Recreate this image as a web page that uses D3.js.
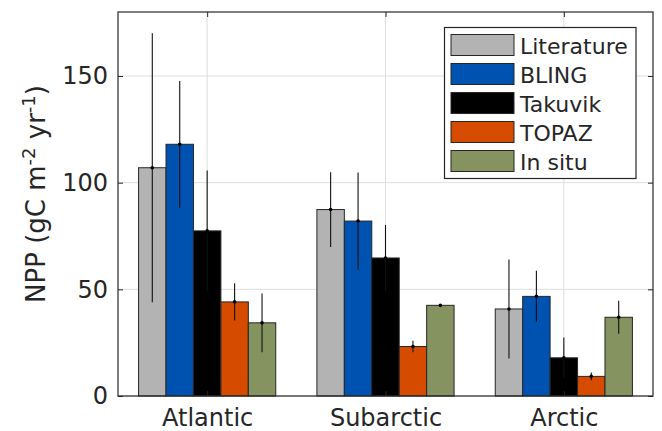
<!DOCTYPE html>
<html>
<head>
<meta charset="utf-8">
<script src="https://cdn.jsdelivr.net/npm/d3@7"></script>
<style>
  body { margin: 0; background: #fff; }
  text { font-family: "DejaVu Sans", sans-serif; fill: #262626; }
</style>
</head>
<body>
<div id="chart"></div>
<script>
// NPP per region, bars with error bars
var categories = ["Atlantic", "Subarctic", "Arctic"];
var series = ["Literature", "BLING", "Takuvik", "TOPAZ", "In situ"];
var colors = ["#b3b3b3", "#0052b0", "#000000", "#d54b00", "#84935f"];
var values = [
  [107, 87.4, 40.8],   // Literature
  [118, 82.0, 46.7],   // BLING
  [77.4, 64.7, 17.9],  // Takuvik
  [44.1, 23.2, 9.2],   // TOPAZ
  [34.3, 42.5, 36.9]   // In situ
];
var errors = [
  [63, 17.5, 23.2],
  [29.7, 22.8, 12],
  [28.3, 15.5, 9.5],
  [8.7, 2.7, 1.8],
  [13.8, 0.5, 7.7]
];
var yTicks = [0, 50, 100, 150];
var yMax = 180;

var W = 662, H = 431;
var margin = {top: 12, right: 9, bottom: 35, left: 118};
var width = W - margin.left - margin.right;
var height = H - margin.top - margin.bottom;
var axisColor = "#262626";

var svg = d3.select("#chart").append("svg").attr("width", W).attr("height", H);
svg.append("rect").attr("width", W).attr("height", H).attr("fill", "#fff");
var g = svg.append("g").attr("transform", "translate(" + margin.left + "," + margin.top + ")");

var x = d3.scaleBand().domain(categories).range([0, width]).padding(0);
var groupW = x.bandwidth() * 5 / 6.5;
var xs = d3.scaleBand().domain(series).range([-groupW / 2, groupW / 2]).padding(0);
var y = d3.scaleLinear().domain([0, yMax]).range([height, 0]);

// grid
var grid = g.append("g");
grid.selectAll("line.h").data(yTicks).enter().append("line")
  .attr("x1", 0).attr("x2", width)
  .attr("y1", function(d) { return y(d); }).attr("y2", function(d) { return y(d); })
  .attr("stroke", "#dedede").attr("stroke-width", 1);
grid.selectAll("line.v").data(categories).enter().append("line")
  .attr("x1", function(d) { return x(d) + x.bandwidth() / 2; })
  .attr("x2", function(d) { return x(d) + x.bandwidth() / 2; })
  .attr("y1", 0).attr("y2", height)
  .attr("stroke", "#dedede").attr("stroke-width", 1);

// bars
var bars = g.append("g");
series.forEach(function(s, i) {
  bars.selectAll("rect.s" + i).data(categories).enter().append("rect")
    .attr("x", function(c) { return x(c) + x.bandwidth() / 2 + xs(s); })
    .attr("y", function(c, j) { return y(values[i][j]); })
    .attr("width", xs.bandwidth())
    .attr("height", function(c, j) { return y(0) - y(values[i][j]); })
    .attr("fill", colors[i])
    .attr("stroke", "#262626").attr("stroke-width", 1);
});

// error bars
var eb = g.append("g");
series.forEach(function(s, i) {
  categories.forEach(function(c, j) {
    var cx = x(c) + x.bandwidth() / 2 + xs(s) + xs.bandwidth() / 2;
    eb.append("line")
      .attr("x1", cx).attr("x2", cx)
      .attr("y1", y(values[i][j] - errors[i][j]))
      .attr("y2", y(values[i][j] + errors[i][j]))
      .attr("stroke", "#111").attr("stroke-width", 1.1);
    eb.append("circle").attr("cx", cx).attr("cy", y(values[i][j]))
      .attr("r", 1.8).attr("fill", "#000");
  });
});

// axes (MATLAB style: ticks inside, box on)
var xCenter = d3.scalePoint().domain(categories).range([x.bandwidth() / 2, width - x.bandwidth() / 2]);
function styleAxis(sel) {
  sel.select(".domain").remove();
  sel.selectAll("line").attr("stroke", axisColor);
  sel.selectAll("text").attr("fill", axisColor).style("font-size", "24px")
    .style("font-family", "DejaVu Sans");
}
var ax = g.append("g").attr("transform", "translate(0," + height + ")")
  .call(d3.axisBottom(xCenter).tickSize(-5)).call(styleAxis);
ax.selectAll("text").attr("y", 30).attr("dy", null);
g.append("g").call(d3.axisTop(xCenter).tickSize(-5).tickFormat("")).call(styleAxis);
g.append("g").call(d3.axisLeft(y).tickValues(yTicks).tickSize(-5).tickPadding(10)).call(styleAxis);
g.append("g").attr("transform", "translate(" + width + ",0)")
  .call(d3.axisRight(y).tickValues(yTicks).tickSize(-5).tickFormat("")).call(styleAxis);

g.append("rect").attr("x", 0).attr("y", 0).attr("width", width).attr("height", height)
  .attr("fill", "none").attr("stroke", axisColor).attr("stroke-width", 1.2);

// y label
var yl = svg.append("text")
  .attr("transform", "translate(45,194) rotate(-90)")
  .attr("text-anchor", "middle")
  .style("font-size", "26px");
yl.append("tspan").text("NPP (gC m");
yl.append("tspan").attr("dy", -10).style("font-size", "18px").text("-2");
yl.append("tspan").attr("dy", 10).text(" yr");
yl.append("tspan").attr("dy", -10).style("font-size", "18px").text("-1");
yl.append("tspan").attr("dy", 10).text(")");

// legend
var lg = svg.append("g").attr("transform", "translate(444.5,27.5)");
lg.append("rect").attr("width", 191.5).attr("height", 151)
  .attr("fill", "#fff").attr("stroke", axisColor).attr("stroke-width", 1.2);
var items = lg.selectAll("g.item").data(series).enter().append("g")
  .attr("transform", function(d, i) { return "translate(6.5," + (7 + i * 29) + ")"; });
items.append("rect").attr("width", 63).attr("height", 21)
  .attr("fill", function(d, i) { return colors[i]; })
  .attr("stroke", "#262626").attr("stroke-width", 1);
items.append("text").attr("x", 69).attr("y", 19)
  .style("font-size", "22px").text(function(d) { return d; });
</script>
</body>
</html>
